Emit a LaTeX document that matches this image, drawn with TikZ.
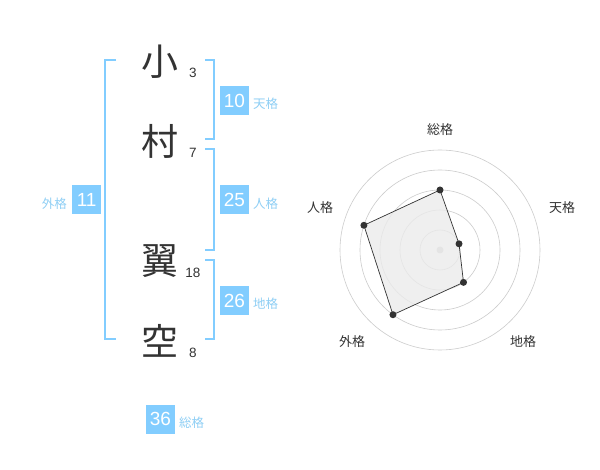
\documentclass[tikz,border=0pt]{standalone}
\usepackage{fontspec}
\setmainfont{Liberation Sans}
\newfontfamily\jp{Noto Sans CJK JP}
\definecolor{skyb}{HTML}{82CDFF}
\definecolor{labb}{HTML}{8FCFF5}
\definecolor{ink}{HTML}{333333}
\definecolor{ring}{HTML}{CCCCCC}
\begin{document}
\begin{tikzpicture}[x=1pt,y=-1pt,
  kanji/.style={font=\jp\fontsize{37}{37}\selectfont, text=ink, inner sep=0pt},
  stroke/.style={font=\fontsize{13.5}{13.5}\selectfont, text=ink, inner sep=0pt},
  numbox/.style={fill=skyb, text=white, minimum width=29pt, minimum height=29pt, inner sep=0pt, font=\fontsize{19}{19}\selectfont},
  boxlab/.style={font=\jp\fontsize{12.5}{12.5}\selectfont, text=labb, inner sep=0pt},
  bracket/.style={draw=skyb, line width=1.6pt},
  axlab/.style={font=\jp\fontsize{13}{13}\selectfont, text=ink, inner sep=0pt},
  ringc/.style={draw=ring, line width=0.6pt},
  dot/.style={circle, fill=ink, inner sep=0pt, minimum size=7pt}]
\useasboundingbox (0,0) rectangle (600,470);
\fill[white] (0,0) rectangle (600,470);
% kanji
\node[kanji] (k1) at (160,62) {小};
\node[kanji] (k2) at (160,141) {村};
\node[kanji] (k3) at (160,261) {翼};
\node[kanji] (k4) at (160,341) {空};
\node[stroke] (s1) at (193,73) {3};
\node[stroke] (s2) at (193,153) {7};
\node[stroke] (s3) at (193,273) {18};
\node[stroke] (s4) at (193,353) {8};
% brackets
\draw[bracket] (116,60) -- (105,60) -- (105,339) -- (116,339);
\draw[bracket] (205,60) -- (214,60) -- (214,139) -- (205,139);
\draw[bracket] (205,149) -- (214,149) -- (214,250) -- (205,250);
\draw[bracket] (205,260) -- (214,260) -- (214,339) -- (205,339);
% boxes
\node[numbox] (b10) at (234.5,100.5) {10};
\node[boxlab, anchor=west] (l10) at (253,104) {天格};
\node[numbox] (b25) at (234.5,200) {25};
\node[boxlab, anchor=west] (l25) at (253,204) {人格};
\node[numbox] (b26) at (234.5,300.5) {26};
\node[boxlab, anchor=west] (l26) at (253,304) {地格};
\node[numbox] (b11) at (86.7,200) {11};
\node[boxlab, anchor=east] (l11) at (67,204) {外格};
\node[numbox] (b36) at (160.5,419) {36};
\node[boxlab, anchor=west] (l36) at (179,423) {総格};
% radar
\coordinate (c) at (440,250);
\foreach \r in {20,40,60,80,100} \draw[ringc] (c) circle[radius=\r];
\path (c) ++(0,-60) coordinate (pS);
\path (c) ++({cos(18)*20},{-sin(18)*20}) coordinate (pT);
\path (c) ++({cos(-54)*40},{-sin(-54)*40}) coordinate (pC);
\path (c) ++({cos(234)*80},{-sin(234)*80}) coordinate (pG);
\path (c) ++({cos(162)*80},{-sin(162)*80}) coordinate (pJ);
\fill[ring] (c) circle[radius=3.5];
\filldraw[fill=black!8, fill opacity=0.8, draw=ink, line width=0.7pt] (pS) -- (pT) -- (pC) -- (pG) -- (pJ) -- cycle;
\foreach \p in {pS,pT,pC,pG,pJ} \node[dot] at (\p) {};
\node[axlab] (aS) at (440,130) {総格};
\node[axlab] (aT) at (562,208) {天格};
\node[axlab] (aC) at (523,342) {地格};
\node[axlab] (aG) at (352,342) {外格};
\node[axlab] (aJ) at (320,208) {人格};
\end{tikzpicture}
\end{document}
